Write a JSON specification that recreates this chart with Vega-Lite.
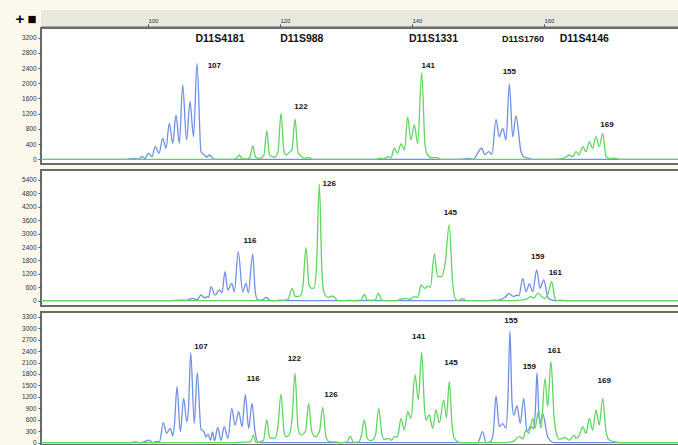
{
"$schema": "https://vega.github.io/schema/vega-lite/v6.json",
"background": "#fcf8ec",
"padding": {"left": 12, "top": 10, "right": 0, "bottom": 0},
"bounds": "flush",
"spacing": 1,
"config": {"font": "Liberation Sans", "axisY": {"labelFontSize": 6.5, "labelColor": "#333", "tickColor": "#555", "tickSize": 3, "labelPadding": 2, "domain": false, "grid": false, "minExtent": 28, "maxExtent": 28}},
"datasets": {
"trace": [
{"p":1,"s":"b","x":83.8,"y":0},{"p":1,"s":"b","x":96.68,"y":0},{"p":1,"s":"b","x":97.94,"y":26},{"p":1,"s":"b","x":98.5,"y":0},{"p":1,"s":"b","x":99.06,"y":70},{"p":1,"s":"b","x":99.56,"y":20},{"p":1,"s":"b","x":100.06,"y":158},{"p":1,"s":"b","x":100.62,"y":70},{"p":1,"s":"b","x":101.12,"y":331},{"p":1,"s":"b","x":101.68,"y":158},{"p":1,"s":"b","x":102.24,"y":552},{"p":1,"s":"b","x":102.74,"y":290},{"p":1,"s":"b","x":103.24,"y":947},{"p":1,"s":"b","x":103.76,"y":420},{"p":1,"s":"b","x":104.26,"y":1165},{"p":1,"s":"b","x":104.76,"y":420},{"p":1,"s":"b","x":105.27,"y":1954},{"p":1,"s":"b","x":105.85,"y":508},{"p":1,"s":"b","x":106.38,"y":1515},{"p":1,"s":"b","x":106.91,"y":595},{"p":1,"s":"b","x":107.44,"y":2525},{"p":1,"s":"b","x":108.04,"y":200},{"p":1,"s":"b","x":108.54,"y":113},{"p":1,"s":"b","x":108.9,"y":60},{"p":1,"s":"b","x":109.3,"y":113},{"p":1,"s":"b","x":110.06,"y":0},{"p":1,"s":"b","x":147.44,"y":0},{"p":1,"s":"b","x":148.65,"y":25},{"p":1,"s":"b","x":149.26,"y":0},{"p":1,"s":"b","x":150.57,"y":290},{"p":1,"s":"b","x":151.07,"y":120},{"p":1,"s":"b","x":151.63,"y":200},{"p":1,"s":"b","x":152.13,"y":130},{"p":1,"s":"b","x":152.74,"y":1052},{"p":1,"s":"b","x":153.24,"y":595},{"p":1,"s":"b","x":153.76,"y":815},{"p":1,"s":"b","x":154.26,"y":508},{"p":1,"s":"b","x":154.76,"y":1980},{"p":1,"s":"b","x":155.27,"y":595},{"p":1,"s":"b","x":155.77,"y":1139},{"p":1,"s":"b","x":156.53,"y":200},{"p":1,"s":"b","x":156.98,"y":60},{"p":1,"s":"b","x":157.63,"y":30},{"p":1,"s":"b","x":158.2,"y":0},{"p":1,"s":"b","x":180.47,"y":0},
{"p":1,"s":"g","x":83.8,"y":0},{"p":1,"s":"g","x":112.89,"y":0},{"p":1,"s":"g","x":113.35,"y":20},{"p":1,"s":"g","x":113.85,"y":113},{"p":1,"s":"g","x":114.26,"y":15},{"p":1,"s":"g","x":115.01,"y":5},{"p":1,"s":"g","x":115.47,"y":60},{"p":1,"s":"g","x":115.88,"y":358},{"p":1,"s":"g","x":116.3,"y":60},{"p":1,"s":"g","x":116.68,"y":26},{"p":1,"s":"g","x":117.13,"y":30},{"p":1,"s":"g","x":117.59,"y":120},{"p":1,"s":"g","x":118.0,"y":744},{"p":1,"s":"g","x":118.42,"y":120},{"p":1,"s":"g","x":118.8,"y":68},{"p":1,"s":"g","x":119.26,"y":60},{"p":1,"s":"g","x":119.71,"y":200},{"p":1,"s":"g","x":120.16,"y":1210},{"p":1,"s":"g","x":120.62,"y":200},{"p":1,"s":"g","x":120.92,"y":113},{"p":1,"s":"g","x":121.38,"y":180},{"p":1,"s":"g","x":121.83,"y":250},{"p":1,"s":"g","x":122.29,"y":1060},{"p":1,"s":"g","x":122.74,"y":180},{"p":1,"s":"g","x":123.04,"y":113},{"p":1,"s":"g","x":123.65,"y":30},{"p":1,"s":"g","x":124.3,"y":50},{"p":1,"s":"g","x":125.01,"y":0},{"p":1,"s":"g","x":134.56,"y":0},{"p":1,"s":"g","x":135.32,"y":30},{"p":1,"s":"g","x":135.77,"y":10},{"p":1,"s":"g","x":136.33,"y":68},{"p":1,"s":"g","x":136.83,"y":40},{"p":1,"s":"g","x":137.33,"y":290},{"p":1,"s":"g","x":137.82,"y":160},{"p":1,"s":"g","x":138.35,"y":402},{"p":1,"s":"g","x":138.88,"y":250},{"p":1,"s":"g","x":139.36,"y":1105},{"p":1,"s":"g","x":139.86,"y":508},{"p":1,"s":"g","x":140.36,"y":902},{"p":1,"s":"g","x":140.88,"y":420},{"p":1,"s":"g","x":141.48,"y":2278},{"p":1,"s":"g","x":142.0,"y":350},{"p":1,"s":"g","x":142.39,"y":113},{"p":1,"s":"g","x":143.04,"y":40},{"p":1,"s":"g","x":143.65,"y":50},{"p":1,"s":"g","x":144.41,"y":0},{"p":1,"s":"g","x":161.83,"y":0},{"p":1,"s":"g","x":162.74,"y":20},{"p":1,"s":"g","x":163.27,"y":50},{"p":1,"s":"g","x":163.85,"y":113},{"p":1,"s":"g","x":164.36,"y":68},{"p":1,"s":"g","x":164.86,"y":200},{"p":1,"s":"g","x":165.32,"y":113},{"p":1,"s":"g","x":165.88,"y":331},{"p":1,"s":"g","x":166.38,"y":200},{"p":1,"s":"g","x":166.88,"y":463},{"p":1,"s":"g","x":167.39,"y":290},{"p":1,"s":"g","x":167.89,"y":595},{"p":1,"s":"g","x":168.39,"y":331},{"p":1,"s":"g","x":168.91,"y":684},{"p":1,"s":"g","x":169.41,"y":68},{"p":1,"s":"g","x":170.01,"y":20},{"p":1,"s":"g","x":170.66,"y":30},{"p":1,"s":"g","x":171.38,"y":0},{"p":1,"s":"g","x":180.47,"y":0},
{"p":2,"s":"b","x":83.8,"y":0},{"p":2,"s":"b","x":103.19,"y":0},{"p":2,"s":"b","x":105.01,"y":30},{"p":2,"s":"b","x":105.77,"y":10},{"p":2,"s":"b","x":106.79,"y":107},{"p":2,"s":"b","x":107.44,"y":40},{"p":2,"s":"b","x":108.04,"y":255},{"p":2,"s":"b","x":108.6,"y":120},{"p":2,"s":"b","x":109.0,"y":180},{"p":2,"s":"b","x":109.2,"y":150},{"p":2,"s":"b","x":109.56,"y":626},{"p":2,"s":"b","x":110.16,"y":250},{"p":2,"s":"b","x":110.82,"y":478},{"p":2,"s":"b","x":111.23,"y":350},{"p":2,"s":"b","x":111.68,"y":1296},{"p":2,"s":"b","x":112.09,"y":478},{"p":2,"s":"b","x":112.7,"y":778},{"p":2,"s":"b","x":113.09,"y":402},{"p":2,"s":"b","x":113.69,"y":2190},{"p":2,"s":"b","x":114.36,"y":402},{"p":2,"s":"b","x":114.86,"y":778},{"p":2,"s":"b","x":115.21,"y":358},{"p":2,"s":"b","x":115.88,"y":2088},{"p":2,"s":"b","x":116.26,"y":400},{"p":2,"s":"b","x":116.63,"y":31},{"p":2,"s":"b","x":117.3,"y":20},{"p":2,"s":"b","x":117.89,"y":152},{"p":2,"s":"b","x":118.65,"y":0},{"p":2,"s":"b","x":151.5,"y":0},{"p":2,"s":"b","x":152.48,"y":30},{"p":2,"s":"b","x":153.0,"y":10},{"p":2,"s":"b","x":153.5,"y":60},{"p":2,"s":"b","x":154.1,"y":150},{"p":2,"s":"b","x":154.76,"y":330},{"p":2,"s":"b","x":155.16,"y":220},{"p":2,"s":"b","x":155.51,"y":179},{"p":2,"s":"b","x":155.77,"y":250},{"p":2,"s":"b","x":156.22,"y":220},{"p":2,"s":"b","x":156.79,"y":1000},{"p":2,"s":"b","x":157.29,"y":402},{"p":2,"s":"b","x":157.79,"y":746},{"p":2,"s":"b","x":158.3,"y":402},{"p":2,"s":"b","x":158.91,"y":1372},{"p":2,"s":"b","x":159.41,"y":554},{"p":2,"s":"b","x":159.97,"y":925},{"p":2,"s":"b","x":160.66,"y":107},{"p":2,"s":"b","x":161.23,"y":30},{"p":2,"s":"b","x":161.83,"y":0},{"p":2,"s":"b","x":180.47,"y":0},
{"p":2,"s":"g","x":83.8,"y":0},{"p":2,"s":"g","x":119.66,"y":0},{"p":2,"s":"g","x":119.91,"y":31},{"p":2,"s":"g","x":120.47,"y":10},{"p":2,"s":"g","x":121.23,"y":60},{"p":2,"s":"g","x":121.83,"y":554},{"p":2,"s":"g","x":122.29,"y":200},{"p":2,"s":"g","x":122.7,"y":179},{"p":2,"s":"g","x":123.19,"y":250},{"p":2,"s":"g","x":123.5,"y":700},{"p":2,"s":"g","x":123.95,"y":2387},{"p":2,"s":"g","x":124.41,"y":700},{"p":2,"s":"g","x":124.82,"y":554},{"p":2,"s":"g","x":125.16,"y":560},{"p":2,"s":"g","x":125.54,"y":1500},{"p":2,"s":"g","x":125.97,"y":5216},{"p":2,"s":"g","x":126.38,"y":1200},{"p":2,"s":"g","x":126.72,"y":330},{"p":2,"s":"g","x":127.29,"y":150},{"p":2,"s":"g","x":128.0,"y":210},{"p":2,"s":"g","x":128.8,"y":0},{"p":2,"s":"g","x":130.0,"y":0},{"p":2,"s":"g","x":130.51,"y":30},{"p":2,"s":"g","x":131.07,"y":0},{"p":2,"s":"g","x":132.29,"y":20},{"p":2,"s":"g","x":132.79,"y":286},{"p":2,"s":"g","x":133.27,"y":20},{"p":2,"s":"g","x":134.41,"y":20},{"p":2,"s":"g","x":134.91,"y":330},{"p":2,"s":"g","x":135.47,"y":10},{"p":2,"s":"g","x":137.59,"y":0},{"p":2,"s":"g","x":138.35,"y":60},{"p":2,"s":"g","x":139.1,"y":107},{"p":2,"s":"g","x":139.71,"y":60},{"p":2,"s":"g","x":140.36,"y":179},{"p":2,"s":"g","x":140.92,"y":150},{"p":2,"s":"g","x":141.38,"y":702},{"p":2,"s":"g","x":141.98,"y":554},{"p":2,"s":"g","x":142.38,"y":650},{"p":2,"s":"g","x":142.8,"y":600},{"p":2,"s":"g","x":143.39,"y":2088},{"p":2,"s":"g","x":143.88,"y":1100},{"p":2,"s":"g","x":144.41,"y":1073},{"p":2,"s":"g","x":145.01,"y":1600},{"p":2,"s":"g","x":145.66,"y":3384},{"p":2,"s":"g","x":146.15,"y":900},{"p":2,"s":"g","x":146.68,"y":31},{"p":2,"s":"g","x":147.13,"y":20},{"p":2,"s":"g","x":147.7,"y":107},{"p":2,"s":"g","x":148.2,"y":0},{"p":2,"s":"g","x":155.32,"y":0},{"p":2,"s":"g","x":156.53,"y":30},{"p":2,"s":"g","x":157.29,"y":60},{"p":2,"s":"g","x":158.04,"y":179},{"p":2,"s":"g","x":158.5,"y":120},{"p":2,"s":"g","x":159.06,"y":330},{"p":2,"s":"g","x":160.06,"y":107},{"p":2,"s":"g","x":160.62,"y":300},{"p":2,"s":"g","x":161.18,"y":850},{"p":2,"s":"g","x":161.6,"y":200},{"p":2,"s":"g","x":161.83,"y":0},{"p":2,"s":"g","x":162.59,"y":20},{"p":2,"s":"g","x":163.2,"y":0},{"p":2,"s":"g","x":180.47,"y":0},
{"p":3,"s":"b","x":83.8,"y":0},{"p":3,"s":"b","x":97.4,"y":0},{"p":3,"s":"b","x":97.94,"y":20},{"p":3,"s":"b","x":98.95,"y":0},{"p":3,"s":"b","x":100.21,"y":70},{"p":3,"s":"b","x":100.72,"y":0},{"p":3,"s":"b","x":101.22,"y":26},{"p":3,"s":"b","x":101.76,"y":30},{"p":3,"s":"b","x":102.33,"y":524},{"p":3,"s":"b","x":102.85,"y":246},{"p":3,"s":"b","x":103.39,"y":377},{"p":3,"s":"b","x":103.76,"y":175},{"p":3,"s":"b","x":104.03,"y":500},{"p":3,"s":"b","x":104.41,"y":1467},{"p":3,"s":"b","x":104.91,"y":288},{"p":3,"s":"b","x":105.42,"y":1163},{"p":3,"s":"b","x":105.88,"y":550},{"p":3,"s":"b","x":106.15,"y":900},{"p":3,"s":"b","x":106.48,"y":2358},{"p":3,"s":"b","x":107.03,"y":508},{"p":3,"s":"b","x":107.48,"y":1834},{"p":3,"s":"b","x":108.04,"y":350},{"p":3,"s":"b","x":108.45,"y":300},{"p":3,"s":"b","x":108.8,"y":150},{"p":3,"s":"b","x":109.1,"y":220},{"p":3,"s":"b","x":109.48,"y":70},{"p":3,"s":"b","x":109.79,"y":280},{"p":3,"s":"b","x":110.09,"y":50},{"p":3,"s":"b","x":110.57,"y":400},{"p":3,"s":"b","x":111.07,"y":60},{"p":3,"s":"b","x":111.57,"y":420},{"p":3,"s":"b","x":112.13,"y":115},{"p":3,"s":"b","x":112.7,"y":900},{"p":3,"s":"b","x":113.19,"y":463},{"p":3,"s":"b","x":113.76,"y":812},{"p":3,"s":"b","x":114.26,"y":420},{"p":3,"s":"b","x":114.76,"y":1250},{"p":3,"s":"b","x":115.27,"y":377},{"p":3,"s":"b","x":115.77,"y":1032},{"p":3,"s":"b","x":116.22,"y":300},{"p":3,"s":"b","x":116.63,"y":26},{"p":3,"s":"b","x":117.13,"y":0},{"p":3,"s":"b","x":149.97,"y":0},{"p":3,"s":"b","x":150.72,"y":288},{"p":3,"s":"b","x":151.22,"y":0},{"p":3,"s":"b","x":151.98,"y":40},{"p":3,"s":"b","x":152.36,"y":300},{"p":3,"s":"b","x":152.74,"y":1223},{"p":3,"s":"b","x":153.24,"y":420},{"p":3,"s":"b","x":153.76,"y":500},{"p":3,"s":"b","x":154.26,"y":380},{"p":3,"s":"b","x":154.56,"y":1200},{"p":3,"s":"b","x":154.86,"y":2935},{"p":3,"s":"b","x":155.16,"y":1100},{"p":3,"s":"b","x":155.42,"y":726},{"p":3,"s":"b","x":155.92,"y":962},{"p":3,"s":"b","x":156.42,"y":508},{"p":3,"s":"b","x":156.94,"y":1163},{"p":3,"s":"b","x":157.44,"y":288},{"p":3,"s":"b","x":157.94,"y":420},{"p":3,"s":"b","x":158.45,"y":377},{"p":3,"s":"b","x":158.72,"y":900},{"p":3,"s":"b","x":158.95,"y":1834},{"p":3,"s":"b","x":159.26,"y":700},{"p":3,"s":"b","x":159.45,"y":508},{"p":3,"s":"b","x":159.82,"y":770},{"p":3,"s":"b","x":160.57,"y":157},{"p":3,"s":"b","x":161.57,"y":0},{"p":3,"s":"b","x":180.47,"y":0},
{"p":3,"s":"g","x":83.8,"y":0},{"p":3,"s":"g","x":112.59,"y":0},{"p":3,"s":"g","x":115.54,"y":20},{"p":3,"s":"g","x":115.97,"y":201},{"p":3,"s":"g","x":116.38,"y":0},{"p":3,"s":"g","x":117.51,"y":60},{"p":3,"s":"g","x":118.0,"y":595},{"p":3,"s":"g","x":118.42,"y":150},{"p":3,"s":"g","x":118.65,"y":115},{"p":3,"s":"g","x":119.26,"y":120},{"p":3,"s":"g","x":119.68,"y":400},{"p":3,"s":"g","x":120.16,"y":1267},{"p":3,"s":"g","x":120.62,"y":300},{"p":3,"s":"g","x":120.92,"y":157},{"p":3,"s":"g","x":121.38,"y":200},{"p":3,"s":"g","x":121.83,"y":600},{"p":3,"s":"g","x":122.29,"y":1818},{"p":3,"s":"g","x":122.74,"y":400},{"p":3,"s":"g","x":123.19,"y":201},{"p":3,"s":"g","x":123.88,"y":300},{"p":3,"s":"g","x":124.36,"y":1032},{"p":3,"s":"g","x":124.82,"y":300},{"p":3,"s":"g","x":125.36,"y":157},{"p":3,"s":"g","x":126.0,"y":300},{"p":3,"s":"g","x":126.48,"y":927},{"p":3,"s":"g","x":126.98,"y":150},{"p":3,"s":"g","x":127.48,"y":26},{"p":3,"s":"g","x":128.5,"y":20},{"p":3,"s":"g","x":129.26,"y":0},{"p":3,"s":"g","x":130.16,"y":20},{"p":3,"s":"g","x":130.66,"y":175},{"p":3,"s":"g","x":131.15,"y":10},{"p":3,"s":"g","x":131.98,"y":20},{"p":3,"s":"g","x":132.36,"y":200},{"p":3,"s":"g","x":132.79,"y":595},{"p":3,"s":"g","x":133.27,"y":100},{"p":3,"s":"g","x":133.8,"y":52},{"p":3,"s":"g","x":134.48,"y":200},{"p":3,"s":"g","x":134.97,"y":900},{"p":3,"s":"g","x":135.47,"y":200},{"p":3,"s":"g","x":135.82,"y":89},{"p":3,"s":"g","x":136.57,"y":115},{"p":3,"s":"g","x":136.91,"y":60},{"p":3,"s":"g","x":137.33,"y":157},{"p":3,"s":"g","x":137.82,"y":150},{"p":3,"s":"g","x":138.35,"y":639},{"p":3,"s":"g","x":138.85,"y":333},{"p":3,"s":"g","x":139.36,"y":812},{"p":3,"s":"g","x":139.86,"y":639},{"p":3,"s":"g","x":140.47,"y":1774},{"p":3,"s":"g","x":140.97,"y":1119},{"p":3,"s":"g","x":141.48,"y":2358},{"p":3,"s":"g","x":141.91,"y":900},{"p":3,"s":"g","x":142.13,"y":595},{"p":3,"s":"g","x":142.63,"y":726},{"p":3,"s":"g","x":143.15,"y":377},{"p":3,"s":"g","x":143.65,"y":857},{"p":3,"s":"g","x":144.15,"y":524},{"p":3,"s":"g","x":144.82,"y":1119},{"p":3,"s":"g","x":145.24,"y":650},{"p":3,"s":"g","x":145.66,"y":1598},{"p":3,"s":"g","x":146.07,"y":500},{"p":3,"s":"g","x":146.42,"y":115},{"p":3,"s":"g","x":147.44,"y":0},{"p":3,"s":"g","x":153.5,"y":0},{"p":3,"s":"g","x":155.27,"y":26},{"p":3,"s":"g","x":156.27,"y":157},{"p":3,"s":"g","x":156.83,"y":100},{"p":3,"s":"g","x":157.29,"y":333},{"p":3,"s":"g","x":157.74,"y":250},{"p":3,"s":"g","x":158.3,"y":639},{"p":3,"s":"g","x":158.65,"y":377},{"p":3,"s":"g","x":159.15,"y":812},{"p":3,"s":"g","x":159.56,"y":377},{"p":3,"s":"g","x":160.17,"y":1686},{"p":3,"s":"g","x":160.57,"y":943},{"p":3,"s":"g","x":161.07,"y":2122},{"p":3,"s":"g","x":161.53,"y":700},{"p":3,"s":"g","x":161.83,"y":288},{"p":3,"s":"g","x":162.33,"y":89},{"p":3,"s":"g","x":163.2,"y":140},{"p":3,"s":"g","x":163.85,"y":66},{"p":3,"s":"g","x":164.6,"y":201},{"p":3,"s":"g","x":164.86,"y":115},{"p":3,"s":"g","x":165.39,"y":200},{"p":3,"s":"g","x":165.88,"y":420},{"p":3,"s":"g","x":166.38,"y":246},{"p":3,"s":"g","x":166.88,"y":639},{"p":3,"s":"g","x":167.39,"y":333},{"p":3,"s":"g","x":167.89,"y":857},{"p":3,"s":"g","x":168.39,"y":463},{"p":3,"s":"g","x":168.91,"y":1163},{"p":3,"s":"g","x":169.41,"y":300},{"p":3,"s":"g","x":169.91,"y":70},{"p":3,"s":"g","x":170.66,"y":26},{"p":3,"s":"g","x":171.68,"y":0},{"p":3,"s":"g","x":180.47,"y":0}
],
"labels": [
{"p":1,"k":"m","t":"D11S4181","x":110.92,"y":3151},{"p":1,"k":"m","t":"D11S988","x":123.32,"y":3151},{"p":1,"k":"m","t":"D11S1331","x":143.27,"y":3151},{"p":1,"k":"s","t":"D11S1760","x":156.83,"y":3151},{"p":1,"k":"m","t":"D11S4146","x":166.12,"y":3165},
{"p":1,"k":"a","t":"107","x":110.06,"y":2454},{"p":1,"k":"a","t":"122","x":123.19,"y":1368},{"p":1,"k":"a","t":"141","x":142.48,"y":2462},{"p":1,"k":"a","t":"155","x":154.76,"y":2304},{"p":1,"k":"a","t":"169","x":169.56,"y":902},
{"p":2,"k":"a","t":"116","x":115.47,"y":2682},{"p":2,"k":"a","t":"126","x":127.48,"y":5216},{"p":2,"k":"a","t":"145","x":145.82,"y":3907},{"p":2,"k":"a","t":"159","x":159.06,"y":1940},{"p":2,"k":"a","t":"161","x":161.73,"y":1252},
{"p":3,"k":"a","t":"107","x":108.04,"y":2499},{"p":3,"k":"a","t":"116","x":115.97,"y":1661},{"p":3,"k":"a","t":"122","x":122.18,"y":2193},{"p":3,"k":"a","t":"126","x":127.74,"y":1250},{"p":3,"k":"a","t":"141","x":141.03,"y":2761},{"p":3,"k":"a","t":"145","x":145.92,"y":2080},{"p":3,"k":"a","t":"155","x":155.01,"y":3196},{"p":3,"k":"a","t":"159","x":157.79,"y":1991},{"p":3,"k":"a","t":"161","x":161.57,"y":2410},{"p":3,"k":"a","t":"169","x":169.15,"y":1617}
],
"icons": [{"t":"+","x":80.6},{"t":"■","x":82.44}]
},
"vconcat": [
{
"width": 638, "height": 17,
"view": {"fill": "#e8e8de", "stroke": null},
"data": {"name": "icons"},
"mark": {"type": "text", "fontSize": 15, "fontWeight": "bold", "color": "#000", "baseline": "middle", "align": "center", "clip": false},
"encoding": {
"x": {"field": "x", "type": "quantitative", "scale": {"domain": [83.8, 180.47], "nice": false, "zero": false}, "axis": {"orient": "top", "offset": -17, "values": [100, 120, 140, 160], "labelFontSize": 6, "labelAlign": "left", "labelPadding": 1, "tickSize": 3, "domainColor": "#6a6a6a", "domainWidth": 2, "tickColor": "#444", "labelColor": "#333", "grid": false, "title": null}},
"text": {"field": "t"}
}
},
{
"spacing": 6,
"bounds": "flush",
"vconcat": [
{
"width": 638, "height": 136,
"view": {"fill": "white", "stroke": "#6a6a6a", "strokeWidth": 2},
"encoding": {
"x": {"field": "x", "type": "quantitative", "scale": {"domain": [83.8, 180.47], "nice": false, "zero": false}, "axis": null},
"y": {"field": "y", "type": "quantitative", "scale": {"domain": [-124, 3453], "nice": false, "zero": false}, "axis": {"values": [0, 400, 800, 1200, 1600, 2000, 2400, 2800, 3200], "format": "d", "title": null}}
},
"layer": [
{"data": {"name": "trace"}, "transform": [{"filter": "datum.p == 1 && datum.s == 'b'"}], "mark": {"type": "line", "color": "#7090e8", "strokeWidth": 1.3, "interpolate": "monotone", "clip": true}},
{"data": {"name": "trace"}, "transform": [{"filter": "datum.p == 1 && datum.s == 'g'"}], "mark": {"type": "line", "color": "#5fd65f", "strokeWidth": 1.3, "interpolate": "monotone", "clip": true}},
{"data": {"name": "labels"}, "transform": [{"filter": "datum.p == 1 && datum.k == 'm'"}], "mark": {"type": "text", "fontSize": 10.5, "fontWeight": "bold", "color": "#111", "baseline": "middle"}, "encoding": {"text": {"field": "t"}}},
{"data": {"name": "labels"}, "transform": [{"filter": "datum.p == 1 && datum.k == 's'"}], "mark": {"type": "text", "fontSize": 9, "fontWeight": "bold", "color": "#111", "baseline": "middle"}, "encoding": {"text": {"field": "t"}}},
{"data": {"name": "labels"}, "transform": [{"filter": "datum.p == 1 && datum.k == 'a'"}], "mark": {"type": "text", "fontSize": 8, "fontWeight": "bold", "color": "#111", "baseline": "middle"}, "encoding": {"text": {"field": "t"}}}
]
},
{
"width": 638, "height": 136,
"view": {"fill": "white", "stroke": "#6a6a6a", "strokeWidth": 2},
"encoding": {
"x": {"field": "x", "type": "quantitative", "scale": {"domain": [83.8, 180.47], "nice": false, "zero": false}, "axis": null},
"y": {"field": "y", "type": "quantitative", "scale": {"domain": [-237, 5842], "nice": false, "zero": false}, "axis": {"values": [0, 600, 1200, 1800, 2400, 3000, 3600, 4200, 4800, 5400], "format": "d", "title": null}}
},
"layer": [
{"data": {"name": "trace"}, "transform": [{"filter": "datum.p == 2 && datum.s == 'b'"}], "mark": {"type": "line", "color": "#7090e8", "strokeWidth": 1.3, "interpolate": "monotone", "clip": true}},
{"data": {"name": "trace"}, "transform": [{"filter": "datum.p == 2 && datum.s == 'g'"}], "mark": {"type": "line", "color": "#5fd65f", "strokeWidth": 1.3, "interpolate": "monotone", "clip": true}},
{"data": {"name": "labels"}, "transform": [{"filter": "datum.p == 2 && datum.k == 'a'"}], "mark": {"type": "text", "fontSize": 8, "fontWeight": "bold", "color": "#111", "baseline": "middle"}, "encoding": {"text": {"field": "t"}}}
]
},
{
"width": 638, "height": 133,
"view": {"fill": "white", "stroke": "#6a6a6a", "strokeWidth": 2},
"encoding": {
"x": {"field": "x", "type": "quantitative", "scale": {"domain": [83.8, 180.47], "nice": false, "zero": false}, "axis": null},
"y": {"field": "y", "type": "quantitative", "scale": {"domain": [-60, 3424], "nice": false, "zero": false}, "axis": {"values": [0, 300, 600, 900, 1200, 1500, 1800, 2100, 2400, 2700, 3000, 3300], "format": "d", "title": null}}
},
"layer": [
{"data": {"name": "trace"}, "transform": [{"filter": "datum.p == 3 && datum.s == 'b'"}], "mark": {"type": "line", "color": "#7090e8", "strokeWidth": 1.3, "interpolate": "monotone", "clip": true}},
{"data": {"name": "trace"}, "transform": [{"filter": "datum.p == 3 && datum.s == 'g'"}], "mark": {"type": "line", "color": "#5fd65f", "strokeWidth": 1.3, "interpolate": "monotone", "clip": true}},
{"data": {"name": "labels"}, "transform": [{"filter": "datum.p == 3 && datum.k == 'a'"}], "mark": {"type": "text", "fontSize": 8, "fontWeight": "bold", "color": "#111", "baseline": "middle"}, "encoding": {"text": {"field": "t"}}}
]
}
]
}
]
}
